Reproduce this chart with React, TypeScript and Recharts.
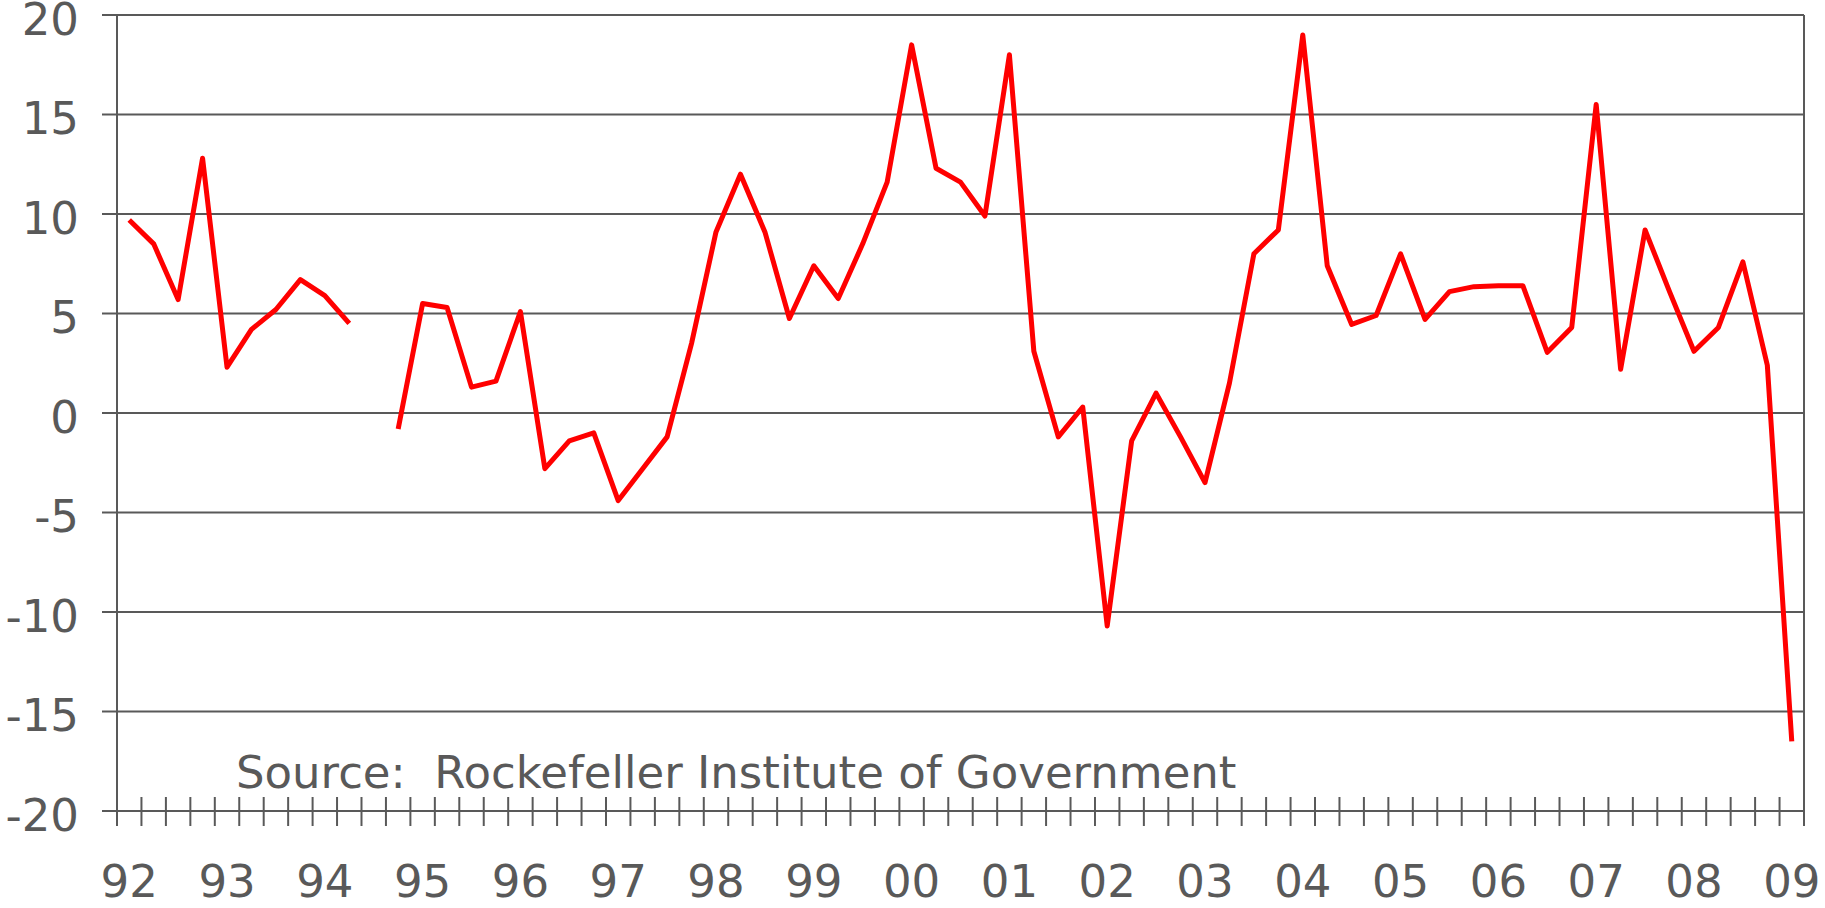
import React from "react";
import { LineChart, Line, XAxis, YAxis, CartesianGrid, ReferenceLine } from "recharts";

// quarterly % change, 1992 Q1 .. 2009 Q1 (94 Q3 missing)
const yearLabels = ["92", "93", "94", "95", "96", "97", "98", "99", "00", "01", "02", "03", "04", "05", "06", "07", "08", "09"];
const quarterValues: (number | null)[] = [
  9.7, 8.5, 5.7, 12.8, 2.3, 4.2, 5.2, 6.7, 5.9, 4.5,
  null, -0.8, 5.5, 5.3, 1.3, 1.6, 5.1, -2.8, -1.4, -1.0,
  -4.4, -2.8, -1.2, 3.5, 9.1, 12.0, 9.1, 4.75, 7.4, 5.75,
  8.5, 11.6, 18.5, 12.3, 11.6, 9.9, 18.0, 3.1, -1.2, 0.3,
  -10.7, -1.4, 1.0, -1.2, -3.5, 1.5, 8.0, 9.2, 19.0, 7.4,
  4.45, 4.9, 8.0, 4.7, 6.1, 6.35, 6.4, 6.4, 3.05, 4.3,
  15.5, 2.2, 9.2, 6.1, 3.1, 4.3, 7.6, 2.4, -16.5,
];
const yTicks = [-20, -15, -10, -5, 0, 5, 10, 15, 20];
const sourceNote = "Source:  Rockefeller Institute of Government";

const FONT = "'DejaVu Sans', Verdana, sans-serif";
const GREY = "#595959";
const FS = 45;

const data = quarterValues.map((v, i) => ({ pos: i + 0.5, value: v }));
const boundaryTicks = Array.from({ length: quarterValues.length + 1 }, (_, i) => i);
const labelTicks = yearLabels.map((_, k) => k * 4 + 0.5);

function CrossTick(props: any) {
  const { x, y } = props;
  return <line x1={x} x2={x} y1={y - 14} y2={y + 15} stroke={GREY} strokeWidth={2} />;
}

export default function App() {
  return (
    <div style={{ position: "absolute", left: 0, top: 0, fontFamily: FONT }}>
      <LineChart
        width={1825}
        height={908}
        data={data}
        margin={{ top: 15, right: 21, left: 0, bottom: 0 }}
      >
        <CartesianGrid vertical={false} stroke={GREY} strokeWidth={2} />
        <XAxis
          dataKey="pos"
          type="number"
          domain={[0, quarterValues.length]}
          allowDataOverflow
          ticks={boundaryTicks}
          interval={0}
          tickLine={false}
          tickSize={0}
          tickMargin={0}
          tick={<CrossTick />}
          axisLine={{ stroke: GREY, strokeWidth: 2 }}
          height={30}
        />
        <XAxis
          xAxisId="lbl"
          dataKey="pos"
          type="number"
          domain={[0, quarterValues.length]}
          allowDataOverflow
          ticks={labelTicks}
          interval={0}
          tickFormatter={(v: number) => yearLabels[Math.round((v - 0.5) / 4)]}
          tickLine={false}
          axisLine={false}
          tickSize={0}
          tickMargin={24}
          tick={{ fontSize: FS, fill: GREY, fontFamily: FONT }}
          height={67}
        />
        <YAxis
          domain={[-20, 20]}
          ticks={yTicks}
          interval={0}
          width={117}
          tickSize={15}
          tickMargin={23}
          tickLine={{ stroke: GREY, strokeWidth: 2 }}
          axisLine={{ stroke: GREY, strokeWidth: 2 }}
          tick={{ fontSize: FS, fill: GREY, fontFamily: FONT, dy: 4 }}
        />
        <ReferenceLine x={quarterValues.length} stroke={GREY} strokeWidth={2} ifOverflow="visible" />
        <Line
          dataKey="value"
          stroke="#ff0000"
          strokeWidth={5}
          strokeLinejoin="round"
          dot={false}
          activeDot={false}
          connectNulls={false}
          isAnimationActive={false}
        />
        <text x={236} y={788} fontSize={FS} fill={GREY} fontFamily={FONT} style={{ whiteSpace: "pre" }}>
          {sourceNote}
        </text>
      </LineChart>
    </div>
  );
}
